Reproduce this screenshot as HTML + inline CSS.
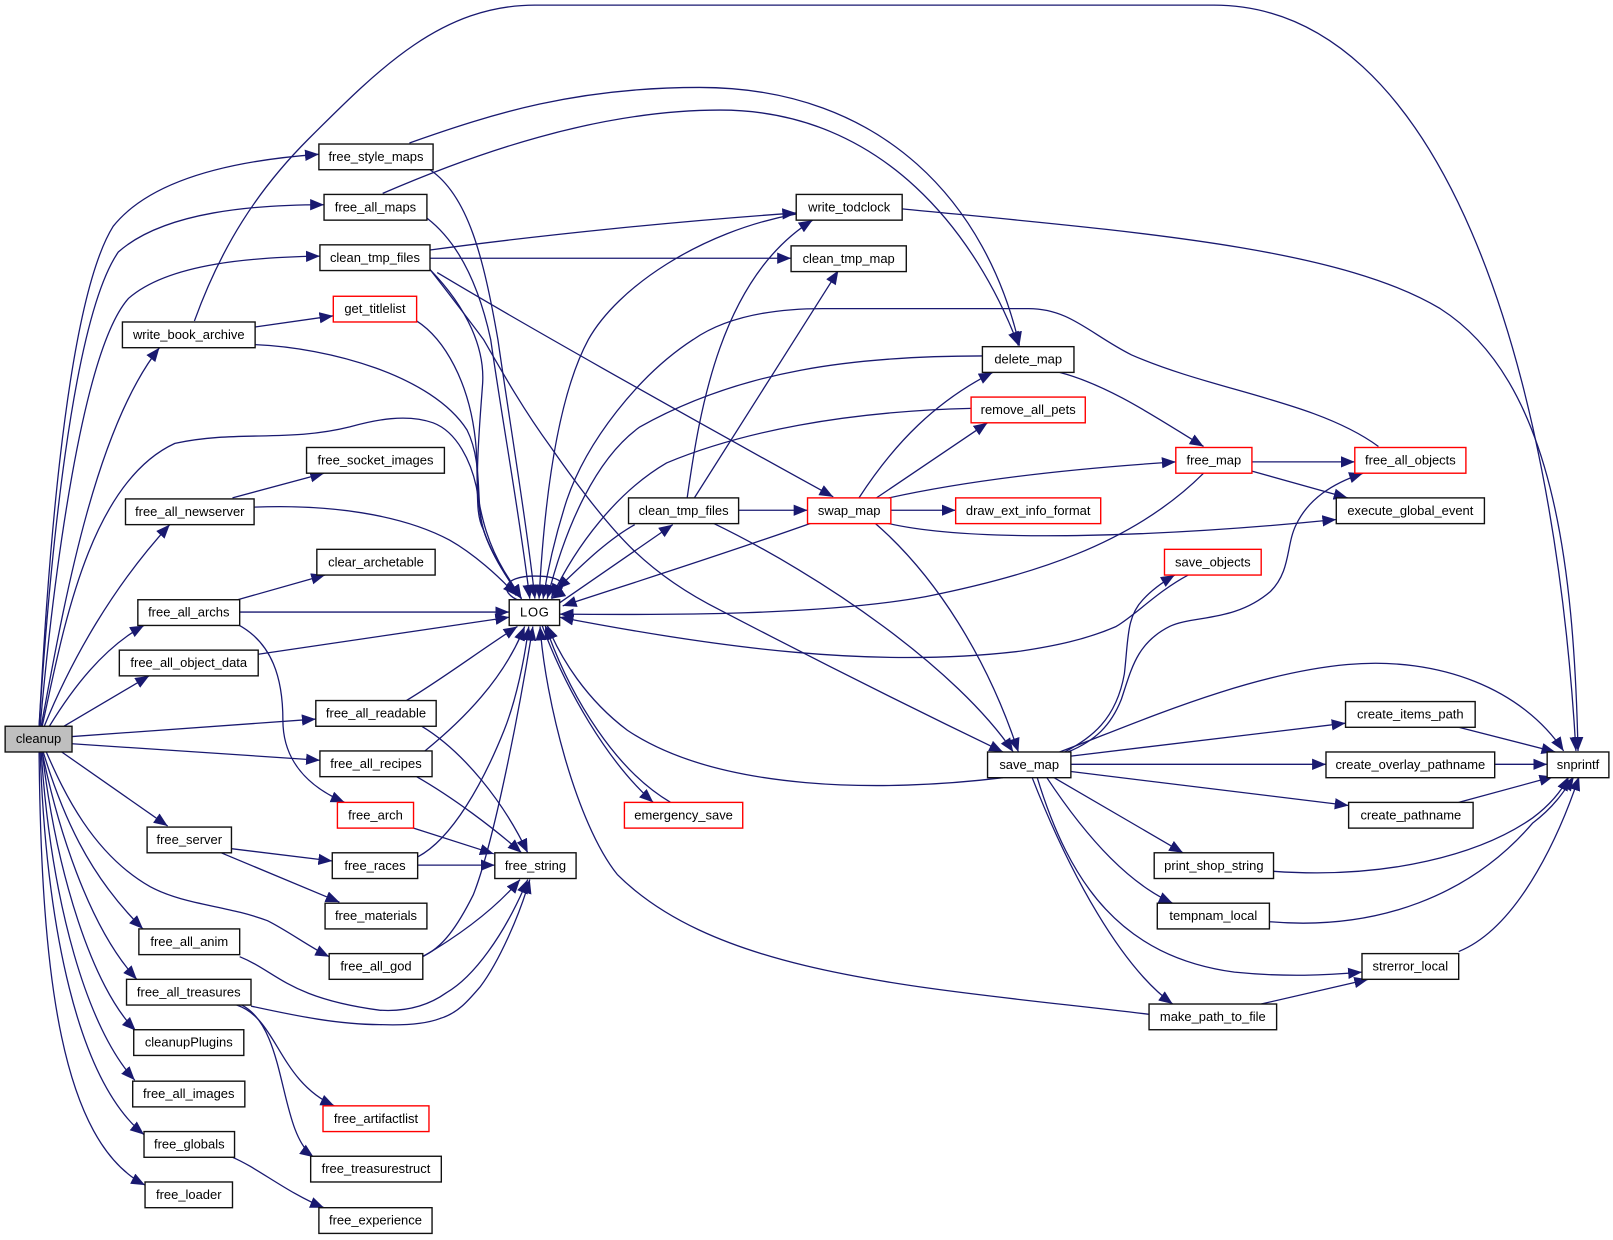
<!DOCTYPE html>
<html><head><meta charset="utf-8"><style>
html,body{margin:0;padding:0;background:#fff}
svg{display:block}
text{font-family:"Liberation Sans",sans-serif;font-size:12.6px;text-anchor:middle;fill:#000}
.e path{fill:none;stroke:#191970;stroke-width:1.25;marker-end:url(#a)}
.n rect{fill:#fff;stroke:#111;stroke-width:1.35}
.n rect.r{stroke:#f00}
.n rect.g{fill:#bfbfbf}
</style></head><body>
<svg width="1613" height="1240" viewBox="0 0 1568 1205.4" xmlns="http://www.w3.org/2000/svg">
<defs><marker id="a" markerUnits="userSpaceOnUse" markerWidth="15" markerHeight="12" refX="13.5" refY="5.5" orient="auto"><polygon points="0,0 13.5,5.5 0,11" fill="#191970"/></marker></defs>
<g class="e">
<path d="M38,706C44,600 60,300 110,220C150,170 240,155 310,150"/>
<path d="M38,706C48,550 70,310 115,245C160,205 250,199 315,199"/>
<path d="M39,706C52,560 80,340 125,290C165,255 250,250 311,249"/>
<path d="M40,706C60,600 90,420 155,338"/>
<path d="M41,706C60,620 85,470 170,431C230,418 280,430 340,415C365,408 395,402 421,411C445,420 458,450 463,473C468,505 475,530 490,555L507,582"/>
<path d="M43,706C70,640 110,570 165,510"/>
<path d="M48,706C70,670 100,630 140,608"/>
<path d="M62,706L145,657"/>
<path d="M70,716L307,699"/>
<path d="M70,723L311,739"/>
<path d="M60,731L163,803"/>
<path d="M45,731C62,770 90,830 146,862C180,880 220,880 260,895C280,905 300,920 320,930"/>
<path d="M42,731C60,790 85,850 139,903"/>
<path d="M41,731C55,800 85,900 133,952"/>
<path d="M41,731C55,850 90,960 132,1002"/>
<path d="M40,731C50,880 85,1000 131,1050"/>
<path d="M39,731C45,900 75,1050 140,1103"/>
<path d="M38,731C40,950 60,1110 141,1152"/>
<path d="M189,312C215,240 250,185 300,135C370,65 430,5 520,5L1180,5C1400,5 1510,350 1532,730"/>
<path d="M247,318L324,307"/>
<path d="M248,335C320,338 420,365 454,418C470,450 462,490 470,515C478,540 495,565 507,582"/>
<path d="M405,312C430,328 458,370 463,437C465,480 462,500 470,515C478,540 495,565 507,582"/>
<path d="M418,165C455,190 470,250 484,330C497,420 512,510 520,582"/>
<path d="M398,139C480,110 560,85 680,85C860,85 960,200 991,336"/>
<path d="M415,212C445,235 465,275 477,330C490,420 505,500 515,582"/>
<path d="M372,188C460,150 580,107 700,107C860,107 950,230 990,336"/>
<path d="M418,243C530,228 660,215 774,207"/>
<path d="M418,251L769,251"/>
<path d="M418,262C455,300 472,340 469,375C465,430 460,480 470,515C478,540 495,565 507,582"/>
<path d="M425,265C500,310 650,395 810,483"/>
<path d="M418,262C440,290 455,310 470,330C490,365 510,400 535,434C560,470 590,510 616,535C640,558 670,578 700,593C790,640 890,690 975,731"/>
<path d="M226,484L315,460"/>
<path d="M247,493C320,490 390,500 437,525C460,538 485,560 502,579"/>
<path d="M231,583L316,559"/>
<path d="M233,595L495,595"/>
<path d="M231,607C265,625 275,660 275,700C275,740 300,765 335,780"/>
<path d="M251,636L495,600"/>
<path d="M395,681C430,660 470,630 503,609"/>
<path d="M410,706C450,730 490,780 513,829"/>
<path d="M413,730C450,700 490,660 510,609"/>
<path d="M405,755C440,775 480,805 507,829"/>
<path d="M402,805L480,830"/>
<path d="M225,825L323,837"/>
<path d="M215,829L330,877"/>
<path d="M406,833C440,815 470,760 490,710C502,680 510,640 514,609"/>
<path d="M406,841L481,841"/>
<path d="M410,930C430,922 445,900 460,870C480,820 505,690 518,609"/>
<path d="M411,930C445,910 480,885 505.5,855"/>
<path d="M233,930C270,945 280,970 369,982C400,984 420,975 434,965C460,950 490,910 513,855"/>
<path d="M244,978C290,988 330,996 369,996C395,997 415,995 428,990C445,985 455,973 467,959C485,935 505,890 515,855"/>
<path d="M230,977C270,990 270,1050 325,1075"/>
<path d="M235,977C280,1000 270,1100 305,1125"/>
<path d="M226,1125C250,1135 280,1160 315,1174"/>
<path d="M774,208C680,225 600,280 572,330C545,380 530,470 524,582"/>
<path d="M877,203C1100,225 1300,240 1400,300C1510,370 1530,550 1534,730"/>
<path d="M955,346C830,346 720,360 622,415C580,445 550,510 532,582"/>
<path d="M1030,362C1080,375 1130,410 1170,434"/>
<path d="M944,397C820,400 720,420 648,450C600,478 560,530 536,581"/>
<path d="M1340,434C1280,390 1180,380 1100,345C1060,325 1040,300 1000,300L800,300C740,300 700,312 674,330C620,365 570,430 551,486C540,520 533,550 528,582"/>
<path d="M790,508C700,540 620,565 547,589"/>
<path d="M835,484C870,430 910,390 965,362"/>
<path d="M852,484L960,411"/>
<path d="M864,484C950,465 1050,455 1143,449"/>
<path d="M866,496L929,496"/>
<path d="M860,508C950,530 1150,520 1299,505"/>
<path d="M850,508C910,560 960,640 990,731"/>
<path d="M1170,460C1100,530 1000,560 900,580C800,598 650,598 544,597"/>
<path d="M1217,449L1317,449"/>
<path d="M1217,458L1310,484"/>
<path d="M1155,559C1125,575 1105,597 1085,609C1055,622 1025,628 992,633C850,650 700,630 544,600"/>
<path d="M668,484C680,400 700,270 790,214"/>
<path d="M675,484L815,263"/>
<path d="M718,496L785,496"/>
<path d="M617,510C590,525 565,550 541,573"/>
<path d="M544,586L654,510"/>
<path d="M692,508C800,560 930,650 985,731"/>
<path d="M527,608C550,670 590,740 635,780"/>
<path d="M652,780C600,750 555,680 530,608"/>
<path d="M505,584C485,576 488,560 520,560C548,560 555,570 536,582"/>
<path d="M975,756C860,770 700,770 610,710C570,680 545,640 532,608"/>
<path d="M1035,731C1060,718 1085,700 1093,655C1097,620 1095,600 1111,583C1120,573 1130,566 1142,559"/>
<path d="M1038,731C1065,720 1080,705 1090,680C1100,650 1105,625 1137,609C1160,598 1200,605 1235,575C1255,555 1250,530 1260,510C1272,485 1295,470 1325,460"/>
<path d="M1030,731C1100,705 1210,655 1310,646C1400,638 1480,670 1520,730"/>
<path d="M1041,735L1308,703"/>
<path d="M1041,743L1289,743"/>
<path d="M1041,750L1311,783"/>
<path d="M1023,755L1150,829"/>
<path d="M1017,755C1060,820 1100,860 1140,878"/>
<path d="M1008,755C1040,860 1090,930 1200,945C1250,950 1290,948 1324,945"/>
<path d="M1003,755C1040,850 1090,940 1140,976"/>
<path d="M1226,976L1330,952"/>
<path d="M1117,986C900,960 700,950 600,850C560,800 530,680 525,609"/>
<path d="M1418,707L1512,731"/>
<path d="M1453,743L1504,743"/>
<path d="M1418,780L1510,755"/>
<path d="M1238,847C1350,855 1440,830 1490,795C1510,780 1520,765 1525,755"/>
<path d="M1234,896C1340,905 1430,870 1490,800C1510,785 1520,770 1530,755"/>
<path d="M1418,925C1480,900 1520,800 1535,755"/>
</g>
<g class="n">
<rect class="g" x="5" y="706" width="65" height="25"/><text x="37.5" y="722.5">cleanup</text>
<rect x="310" y="140" width="111" height="25"/><text x="365.5" y="156.5">free_style_maps</text>
<rect x="315" y="189" width="100" height="25"/><text x="365" y="205.5">free_all_maps</text>
<rect x="311" y="238" width="107" height="25"/><text x="364.5" y="254.5">clean_tmp_files</text>
<rect x="119" y="313" width="129" height="25"/><text x="183.5" y="329.5">write_book_archive</text>
<rect class="r" x="324" y="288" width="81" height="25"/><text x="364.5" y="304.5">get_titlelist</text>
<rect x="298" y="435" width="134" height="25"/><text x="365" y="451.5">free_socket_images</text>
<rect x="122" y="485" width="125" height="25"/><text x="184.5" y="501.5">free_all_newserver</text>
<rect x="308" y="534" width="115" height="25"/><text x="365.5" y="550.5">clear_archetable</text>
<rect x="134" y="583" width="99" height="25"/><text x="183.5" y="599.5">free_all_archs</text>
<rect x="495" y="583" width="49" height="25"/><text x="519.5" y="599.5" textLength="28" lengthAdjust="spacing">LOG</text>
<rect x="116" y="632" width="135" height="25"/><text x="183.5" y="648.5">free_all_object_data</text>
<rect x="307" y="681" width="117" height="25"/><text x="365.5" y="697.5">free_all_readable</text>
<rect x="311" y="730" width="109" height="25"/><text x="365.5" y="746.5">free_all_recipes</text>
<rect class="r" x="328" y="780" width="74" height="25"/><text x="365" y="796.5">free_arch</text>
<rect x="143" y="804" width="82" height="25"/><text x="184" y="820.5">free_server</text>
<rect x="323" y="829" width="83" height="25"/><text x="364.5" y="845.5">free_races</text>
<rect x="481" y="829" width="79" height="25"/><text x="520.5" y="845.5">free_string</text>
<rect x="316" y="878" width="99" height="25"/><text x="365.5" y="894.5">free_materials</text>
<rect x="135" y="903" width="98" height="25"/><text x="184" y="919.5">free_all_anim</text>
<rect x="320" y="927" width="91" height="25"/><text x="365.5" y="943.5">free_all_god</text>
<rect x="123" y="952" width="121" height="25"/><text x="183.5" y="968.5">free_all_treasures</text>
<rect x="130" y="1001" width="107" height="25"/><text x="183.5" y="1017.5">cleanupPlugins</text>
<rect x="129" y="1051" width="109" height="25"/><text x="183.5" y="1067.5">free_all_images</text>
<rect class="r" x="314" y="1075" width="103" height="25"/><text x="365.5" y="1091.5">free_artifactlist</text>
<rect x="140" y="1100" width="88" height="25"/><text x="184" y="1116.5">free_globals</text>
<rect x="302" y="1124" width="127" height="25"/><text x="365.5" y="1140.5">free_treasurestruct</text>
<rect x="141" y="1149" width="85" height="25"/><text x="183.5" y="1165.5">free_loader</text>
<rect x="310" y="1174" width="110" height="25"/><text x="365" y="1190.5">free_experience</text>
<rect x="774" y="189" width="103" height="25"/><text x="825.5" y="205.5">write_todclock</text>
<rect x="769" y="239" width="112" height="25"/><text x="825" y="255.5">clean_tmp_map</text>
<rect x="955" y="337" width="89" height="25"/><text x="999.5" y="353.5">delete_map</text>
<rect class="r" x="944" y="386" width="111" height="25"/><text x="999.5" y="402.5">remove_all_pets</text>
<rect x="611" y="484" width="107" height="25"/><text x="664.5" y="500.5">clean_tmp_files</text>
<rect class="r" x="785" y="484" width="81" height="25"/><text x="825.5" y="500.5">swap_map</text>
<rect class="r" x="929" y="484" width="141" height="25"/><text x="999.5" y="500.5">draw_ext_info_format</text>
<rect class="r" x="1143" y="435" width="74" height="25"/><text x="1180" y="451.5">free_map</text>
<rect class="r" x="1317" y="435" width="108" height="25"/><text x="1371" y="451.5">free_all_objects</text>
<rect x="1299" y="484" width="144" height="25"/><text x="1371" y="500.5">execute_global_event</text>
<rect class="r" x="1132" y="534" width="94" height="25"/><text x="1179" y="550.5">save_objects</text>
<rect class="r" x="607" y="780" width="115" height="25"/><text x="664.5" y="796.5">emergency_save</text>
<rect x="960" y="731" width="81" height="25"/><text x="1000.5" y="747.5">save_map</text>
<rect x="1308" y="682" width="126" height="25"/><text x="1371" y="698.5">create_items_path</text>
<rect x="1289" y="731" width="164" height="25"/><text x="1371" y="747.5">create_overlay_pathname</text>
<rect x="1311" y="780" width="121" height="25"/><text x="1371.5" y="796.5">create_pathname</text>
<rect x="1504" y="731" width="60" height="25"/><text x="1534" y="747.5">snprintf</text>
<rect x="1122" y="829" width="116" height="25"/><text x="1180" y="845.5">print_shop_string</text>
<rect x="1125" y="878" width="109" height="25"/><text x="1179.5" y="894.5">tempnam_local</text>
<rect x="1324" y="927" width="94" height="25"/><text x="1371" y="943.5">strerror_local</text>
<rect x="1117" y="976" width="124" height="25"/><text x="1179" y="992.5">make_path_to_file</text>
</g>
</svg>
</body></html>
